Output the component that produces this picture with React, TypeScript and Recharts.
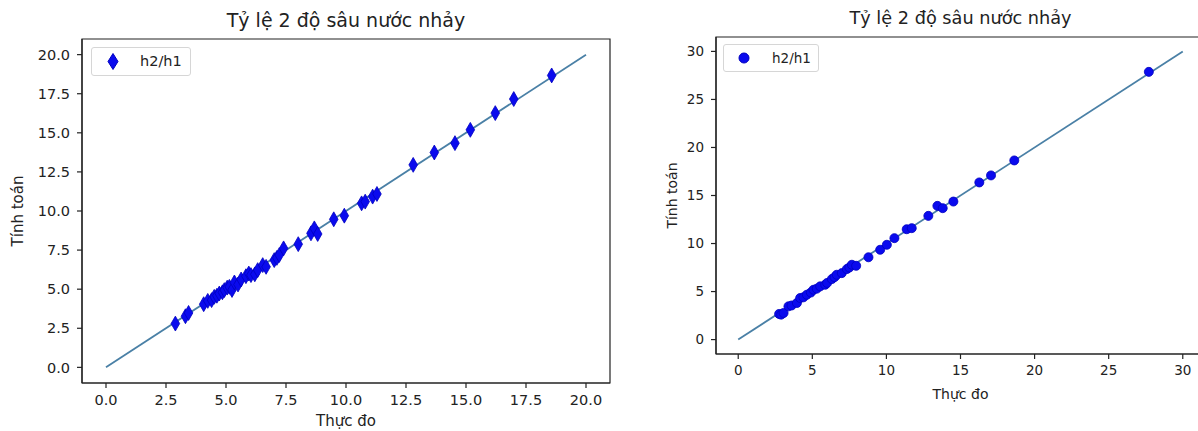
import {
  ScatterChart,
  Scatter,
  XAxis,
  YAxis,
  ReferenceArea,
  Legend,
} from "recharts";

const TITLE = "Tỷ lệ 2 độ sâu nước nhảy";
const X_LABEL = "Thực đo";
const Y_LABEL = "Tính toán";
const SERIES_NAME = "h2/h1";

// left panel (diamonds)
const leftMeasured = [
  2.89, 3.31, 3.44, 4.07, 4.24, 4.4, 4.51, 4.62, 4.72, 4.85, 4.93, 5.05, 5.14,
  5.25, 5.35, 5.5, 5.63, 5.83, 5.95, 6.04, 6.2, 6.32, 6.53, 6.67, 7.01, 7.12,
  7.22, 7.4, 8.01, 8.54, 8.68, 8.82, 9.49, 9.93, 10.65, 10.8, 11.11, 11.29,
  12.8, 13.68, 14.54, 15.18, 16.22, 16.99, 18.57,
];
const leftComputed = [
  2.8, 3.27, 3.48, 4.04, 4.25, 4.3, 4.51, 4.58, 4.72, 4.8, 4.94, 5.1, 5.15,
  4.95, 5.43, 5.3, 5.62, 5.83, 6.0, 5.9, 5.95, 6.22, 6.54, 6.43, 6.86, 7.0,
  7.18, 7.61, 7.88, 8.57, 8.89, 8.53, 9.47, 9.7, 10.49, 10.6, 10.92, 11.09,
  12.95, 13.74, 14.34, 15.19, 16.26, 17.16, 18.67,
];
const leftLine = [0, 20];
const leftTicks = [0, 2.5, 5, 7.5, 10, 12.5, 15, 17.5, 20];

// right panel (circles)
const rightMeasured = [
  2.76, 2.9, 3.06, 3.39, 3.6, 3.96, 4.18, 4.4, 4.63, 4.9, 5.08, 5.3, 5.53,
  5.87, 6.0, 6.32, 6.5, 6.65, 6.99, 7.33, 7.5, 7.67, 7.96, 8.79, 9.58, 10.03,
  10.54, 11.37, 11.71, 12.83, 13.44, 13.8, 14.52, 16.27, 17.06, 18.63, 27.71,
];
const rightComputed = [
  2.67, 2.6, 2.77, 3.46, 3.55, 3.81, 4.33, 4.4, 4.67, 4.9, 5.19, 5.3, 5.54,
  5.71, 5.9, 6.3, 6.5, 6.75, 6.92, 7.34, 7.5, 7.79, 7.68, 8.57, 9.35, 9.87,
  10.56, 11.49, 11.6, 12.88, 13.92, 13.68, 14.37, 16.36, 17.09, 18.65, 27.87,
];
const rightLine = [0, 30];
const rightTicks = [0, 5, 10, 15, 20, 25, 30];

const FONT = "DejaVu Sans";
const INK = "#222";
const LINE_COLOR = "#4a80a6";
const MARK_COLOR = "#0a0aee";
const MARK_EDGE = "#0000c0";

const toPoints = (xs: number[], ys: number[]) =>
  xs.map((x, i) => ({ x, y: ys[i] }));

function LegendBox({
  shape,
  width,
  height,
  fontSize,
  markX,
  textX,
}: {
  shape: "diamond" | "circle";
  width: number;
  height: number;
  fontSize: number;
  markX: number;
  textX: number;
}) {
  const cy = height / 2;
  return (
    <div
      style={{
        position: "relative",
        width,
        height,
        boxSizing: "border-box",
        border: "1px solid #d6d6d6",
        borderRadius: 3,
        background: "rgba(255,255,255,0.8)",
        fontFamily: FONT,
        fontSize,
        color: INK,
      }}
    >
      <svg
        width={width}
        height={height}
        style={{ position: "absolute", left: -1, top: -1 }}
      >
        {shape === "diamond" ? (
          <polygon
            points={`${markX},${cy - 8} ${markX + 5},${cy} ${markX},${cy + 8} ${markX - 5},${cy}`}
            fill={MARK_COLOR}
            stroke={MARK_EDGE}
          />
        ) : (
          <circle cx={markX} cy={cy} r={5} fill={MARK_COLOR} stroke={MARK_EDGE} />
        )}
      </svg>
      <span
        style={{
          position: "absolute",
          left: textX,
          top: 0,
          lineHeight: `${height - 2}px`,
        }}
      >
        {SERIES_NAME}
      </span>
    </div>
  );
}

export default function App() {
  const leftData = toPoints(leftMeasured, leftComputed);
  const rightData = toPoints(rightMeasured, rightComputed);
  const leftLineData = toPoints(leftLine, leftLine);
  const rightLineData = toPoints(rightLine, rightLine);

  const tickL = { fill: INK, fontSize: 14.5, fontFamily: FONT };
  const tickR = { fill: INK, fontSize: 13.5, fontFamily: FONT };
  const axisLine = { stroke: INK, strokeWidth: 1.2 };

  return (
    <div
      style={{
        position: "absolute",
        left: 0,
        top: 0,
        width: 1198,
        height: 431,
        overflow: "hidden",
        background: "#fff",
      }}
    >
      {/* left panel */}
      <div
        style={{
          position: "absolute",
          left: 82,
          top: 9,
          width: 528,
          textAlign: "center",
          fontFamily: FONT,
          fontSize: 19,
          color: INK,
        }}
      >
        {TITLE}
      </div>
      <div style={{ position: "absolute", left: 0, top: 0 }}>
        <ScatterChart
          width={620}
          height={431}
          margin={{ top: 39, right: 10, bottom: 5, left: 18 }}
        >
          <XAxis
            type="number"
            dataKey="x"
            domain={[-1, 21]}
            ticks={leftTicks}
            interval={0}
            tickFormatter={(v: number) => v.toFixed(1)}
            tick={tickL}
            tickSize={5}
            tickMargin={7}
            axisLine={axisLine}
            tickLine={axisLine}
            height={43}
            allowDataOverflow
            label={{
              value: X_LABEL,
              position: "insideBottom",
              offset: 0,
              style: { fill: INK, fontSize: 15, fontFamily: FONT },
            }}
          />
          <YAxis
            type="number"
            dataKey="y"
            domain={[-1, 21]}
            ticks={leftTicks}
            interval={0}
            tickFormatter={(v: number) => v.toFixed(1)}
            tick={tickL}
            tickSize={5}
            tickMargin={7}
            axisLine={axisLine}
            tickLine={axisLine}
            width={64}
            allowDataOverflow
            label={{
              value: Y_LABEL,
              angle: -90,
              position: "insideLeft",
              offset: 0,
              style: {
                fill: INK,
                fontSize: 15,
                fontFamily: FONT,
                textAnchor: "middle",
              },
            }}
          />
          <ReferenceArea
            x1={-1}
            x2={21}
            y1={-1}
            y2={21}
            fill="none"
            stroke={INK}
            strokeWidth={1.2}
          />
          <Scatter
            data={leftLineData}
            line={{ stroke: LINE_COLOR, strokeWidth: 1.8 }}
            shape={() => <g />}
            legendType="none"
            isAnimationActive={false}
          />
          <Scatter
            name={SERIES_NAME}
            data={leftData}
            shape="diamond"
            size={80}
            fill={MARK_COLOR}
            stroke={MARK_EDGE}
            strokeWidth={0.8}
            isAnimationActive={false}
          />
          <Legend
            layout="horizontal"
            verticalAlign="middle"
            align="center"
            wrapperStyle={{ left: 91, top: 47, width: "auto" }}
            content={() => (
              <LegendBox
                shape="diamond"
                width={100}
                height={29}
                fontSize={14.5}
                markX={22}
                textX={48}
              />
            )}
          />
        </ScatterChart>
      </div>

      {/* right panel */}
      <div
        style={{
          position: "absolute",
          left: 716,
          top: 8,
          width: 489,
          textAlign: "center",
          fontFamily: FONT,
          fontSize: 17.7,
          color: INK,
        }}
      >
        {TITLE}
      </div>
      <div style={{ position: "absolute", left: 620, top: 0 }}>
        <ScatterChart
          width={600}
          height={431}
          margin={{ top: 37, right: 15, bottom: 32, left: 52 }}
        >
          <XAxis
            type="number"
            dataKey="x"
            domain={[-1.5, 31.5]}
            ticks={rightTicks}
            interval={0}
            tick={tickR}
            tickSize={5}
            tickMargin={6}
            axisLine={axisLine}
            tickLine={axisLine}
            height={45}
            allowDataOverflow
            label={{
              value: X_LABEL,
              position: "insideBottom",
              offset: 0,
              style: { fill: INK, fontSize: 14, fontFamily: FONT },
            }}
          />
          <YAxis
            type="number"
            dataKey="y"
            domain={[-1.5, 31.5]}
            ticks={rightTicks}
            interval={0}
            tick={tickR}
            tickSize={5}
            tickMargin={7}
            axisLine={axisLine}
            tickLine={axisLine}
            width={44}
            allowDataOverflow
            label={{
              value: Y_LABEL,
              angle: -90,
              position: "insideLeft",
              offset: 0,
              style: {
                fill: INK,
                fontSize: 14,
                fontFamily: FONT,
                textAnchor: "middle",
              },
            }}
          />
          <ReferenceArea
            x1={-1.5}
            x2={31.5}
            y1={-1.5}
            y2={31.5}
            fill="none"
            stroke={INK}
            strokeWidth={1.2}
          />
          <Scatter
            data={rightLineData}
            line={{ stroke: LINE_COLOR, strokeWidth: 1.8 }}
            shape={() => <g />}
            legendType="none"
            isAnimationActive={false}
          />
          <Scatter
            name={SERIES_NAME}
            data={rightData}
            shape="circle"
            fill={MARK_COLOR}
            stroke={MARK_EDGE}
            strokeWidth={0.8}
            size={72}
            isAnimationActive={false}
          />
          <Legend
            layout="horizontal"
            verticalAlign="middle"
            align="center"
            wrapperStyle={{ left: 103, top: 44, width: "auto" }}
            content={() => (
              <LegendBox
                shape="circle"
                width={96}
                height={28}
                fontSize={13.5}
                markX={21}
                textX={48}
              />
            )}
          />
        </ScatterChart>
      </div>
    </div>
  );
}
